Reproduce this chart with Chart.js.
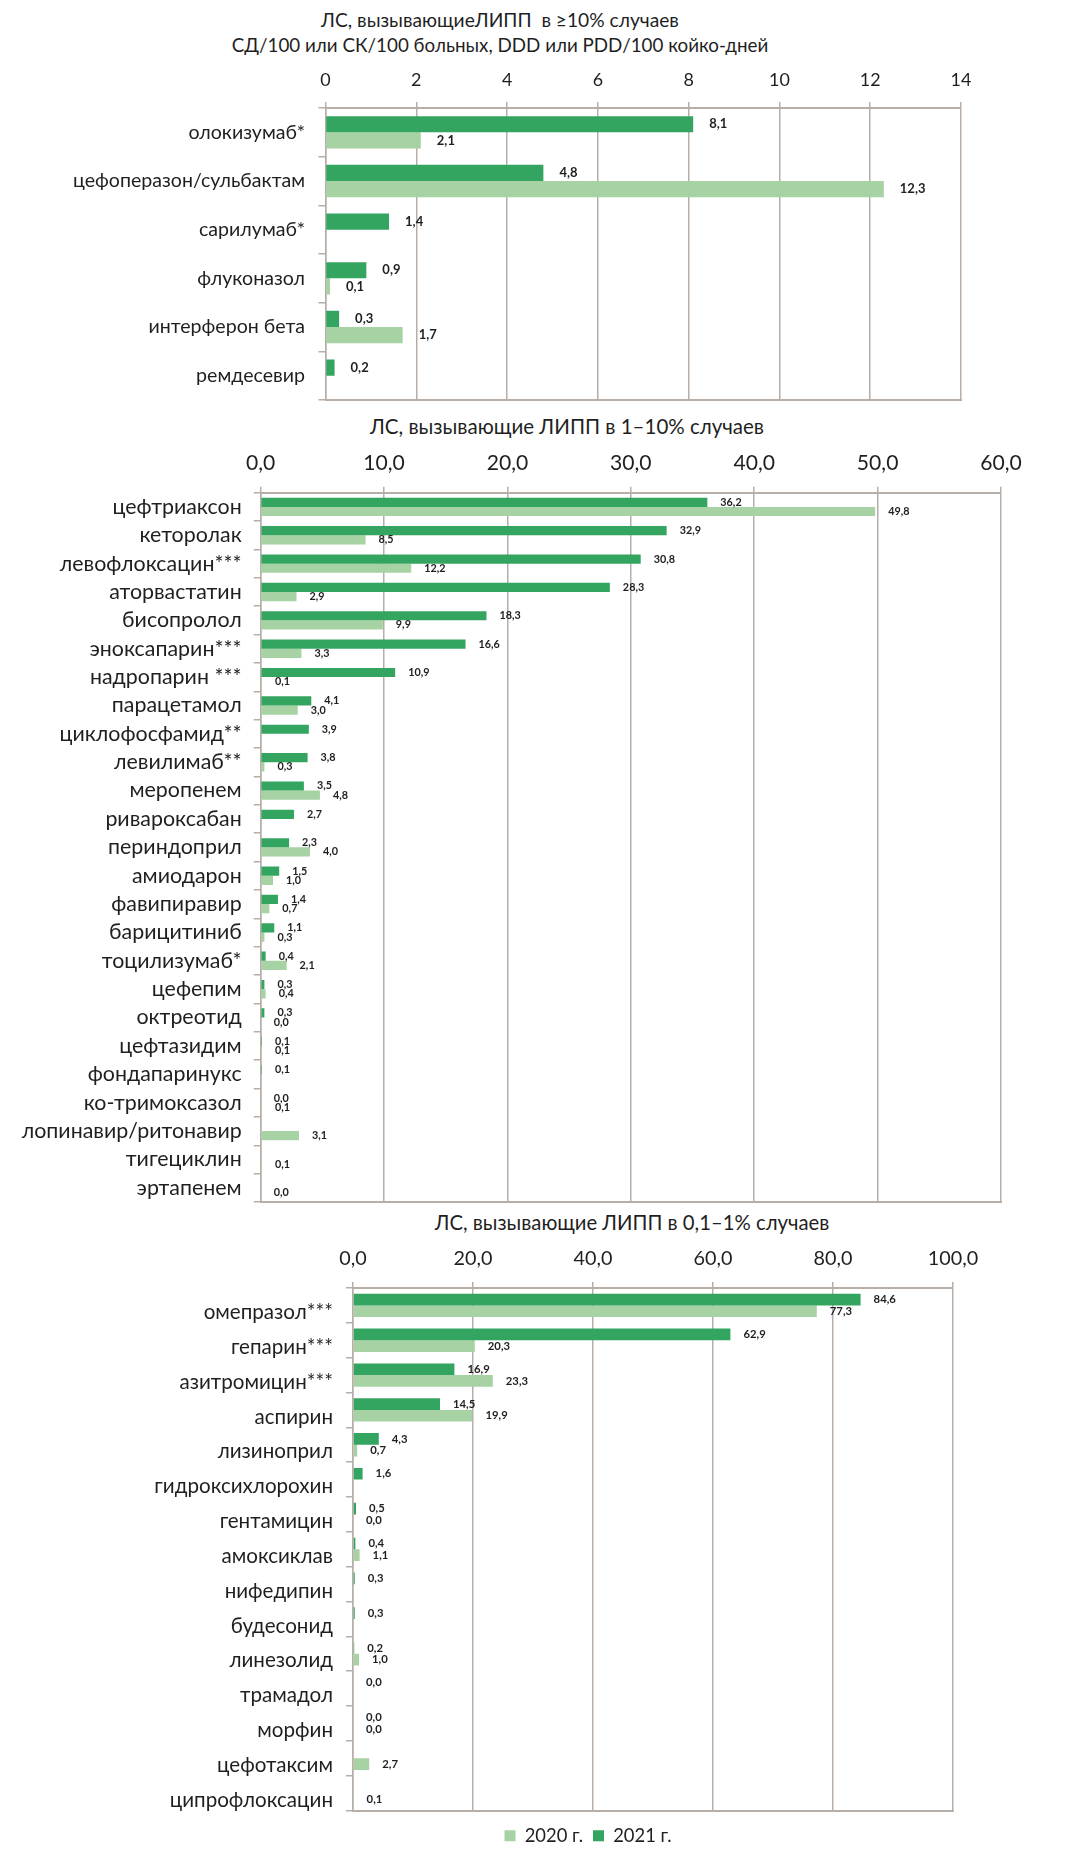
<!DOCTYPE html>
<html><head><meta charset="utf-8">
<script src="https://cdn.jsdelivr.net/npm/chart.js@4.4.1/dist/chart.umd.min.js"></script>
<style>
html,body{margin:0;padding:0;background:#fff;}
body{width:1084px;height:1855px;position:relative;overflow:hidden;font-family:Lato,"Noto Sans",sans-serif;color:#1f1f1f;}
.t{position:absolute;width:800px;text-align:center;font-size:20px;line-height:25px;white-space:pre;}
canvas{position:absolute;}
</style></head><body>
<div class="t" id="t1a" style="left:100px;top:7px;"></div>
<div class="t" id="t1b" style="left:100px;top:32px;"></div>
<div class="t" id="t2" style="left:167px;top:414px;"></div>
<div class="t" id="t3" style="left:232px;top:1210px;"></div>
<canvas id="c1" width="1004" height="404" style="left:0;top:0;"></canvas>
<canvas id="c2" width="1084" height="766" style="left:0;top:440px;"></canvas>
<canvas id="c3" width="992" height="615" style="left:92px;top:1240px;"></canvas>
<script>
// ---------- data ----------
const titles = {
  t1a: 'ЛС, вызывающиеЛИПП  в ≥10% случаев',
  t1b: 'СД/100 или СК/100 больных, DDD или PDD/100 койко-дней',
  t2: 'ЛС, вызывающие ЛИПП в 1–10% случаев',
  t3: 'ЛС, вызывающие ЛИПП в 0,1–1% случаев'
};
const seriesNames = ['2021 г.', '2020 г.'];

const cats1 = ['олокизумаб*', 'цефоперазон/сульбактам', 'сарилумаб*', 'флуконазол', 'интерферон бета', 'ремдесевир'];
const y2021_1 = [8.1, 4.8, 1.4, 0.9, 0.3, 0.2];
const y2020_1 = [2.1, 12.3, null, 0.1, 1.7, null];
const axis1 = [0, 14, 2];   // min, max, step

const cats2 = ['цефтриаксон', 'кеторолак', 'левофлоксацин***', 'аторвастатин', 'бисопролол', 'эноксапарин***',
  'надропарин ***', 'парацетамол', 'циклофосфамид**', 'левилимаб**', 'меропенем', 'ривароксабан',
  'периндоприл', 'амиодарон', 'фавипиравир', 'барицитиниб', 'тоцилизумаб*', 'цефепим', 'октреотид',
  'цефтазидим', 'фондапаринукс', 'ко-тримоксазол', 'лопинавир/ритонавир', 'тигециклин', 'эртапенем'];
const y2021_2 = [36.2, 32.9, 30.8, 28.3, 18.3, 16.6, 10.9, 4.1, 3.9, 3.8, 3.5, 2.7, 2.3, 1.5, 1.4, 1.1, 0.4, 0.3, 0.3, 0.1, 0.1, 0.0, null, null, null];
const y2020_2 = [49.8, 8.5, 12.2, 2.9, 9.9, 3.3, 0.1, 3.0, null, 0.3, 4.8, null, 4.0, 1.0, 0.7, 0.3, 2.1, 0.4, 0.0, 0.1, null, 0.1, 3.1, 0.1, 0.0];
const axis2 = [0, 60, 10];

const cats3 = ['омепразол***', 'гепарин***', 'азитромицин***', 'аспирин', 'лизиноприл', 'гидроксихлорохин',
  'гентамицин', 'амоксиклав', 'нифедипин', 'будесонид', 'линезолид', 'трамадол', 'морфин', 'цефотаксим', 'ципрофлоксацин'];
const y2021_3 = [84.6, 62.9, 16.9, 14.5, 4.3, 1.6, 0.5, 0.4, 0.3, 0.3, 0.2, 0.0, 0.0, null, null];
const y2020_3 = [77.3, 20.3, 23.3, 19.9, 0.7, null, 0.0, 1.1, null, null, 1.0, null, 0.0, 2.7, 0.1];
const axis3 = [0, 100, 20];

// ---------- style ----------
const FONT = 'Lato, "Noto Sans", sans-serif';
const DARK = '#33a560';
const LIGHT = '#a6d2a4';
const GRID = '#b7aea8';
const TXT = '#1f1f1f';
const comma = (v, d) => Number(v).toFixed(d).replace('.', ',');

// font size that makes a sample string as wide as in the reference
const mctx = document.createElement('canvas').getContext('2d');
function fit(sample, width, bold) {
  mctx.font = (bold ? 'bold ' : '') + '100px ' + FONT;
  return Math.round(1000 * width / mctx.measureText(sample).width) / 10;
}

[['t1a', 358], ['t1b', 537], ['t2', 394], ['t3', 395]].forEach(([id, w]) => {
  const el = document.getElementById(id);
  el.textContent = titles[id];
  el.style.fontSize = fit(titles[id], w) + 'px';
});

const valueLabels = {
  id: 'valueLabels',
  afterDatasetsDraw(chart, args, o) {
    const ctx = chart.ctx;
    ctx.save();
    ctx.font = 'bold ' + o.size + 'px ' + FONT;
    ctx.fillStyle = TXT;
    ctx.textBaseline = 'middle';
    ctx.textAlign = 'left';
    chart.data.datasets.forEach((ds, di) => {
      const meta = chart.getDatasetMeta(di);
      meta.data.forEach((bar, i) => {
        const v = ds.data[i];
        if (v === null || v === undefined) return;
        ctx.fillText(comma(v, 1), bar.x + o.offset, bar.y);
      });
    });
    ctx.restore();
  }
};

function build(id, cats, d21, d20, axis, s) {
  const tickPad = s.tickGap - 6 - 0.6 * s.tickSize;
  const scales = {
    x: {
      type: 'linear', position: 'top', min: axis[0], max: axis[1],
      ticks: { stepSize: axis[2], font: { family: FONT, size: s.tickSize }, color: TXT, padding: tickPad,
        callback: v => comma(v, s.dec) },
      grid: { color: GRID, lineWidth: 1.5, tickLength: 6, tickColor: GRID },
      border: { color: GRID, width: 2 },
      afterFit: sc => { sc.height = s.xH; sc.paddingLeft = 0; sc.paddingRight = 0; }
    },
    xb: {
      type: 'linear', position: 'bottom', min: axis[0], max: axis[1], display: true,
      grid: { display: false }, ticks: { display: false },
      border: { display: true, color: GRID, width: 2 },
      afterFit: sc => { sc.height = s.xbH || 0; }
    },
    y: {
      type: 'category',
      ticks: { font: { family: FONT, size: s.catSize }, color: TXT, padding: s.catPad, labelOffset: s.labelOffset || 0, autoSkip: false },
      grid: { offset: true, drawOnChartArea: false, tickLength: 7, tickColor: GRID, color: GRID, lineWidth: 1.5 },
      border: { color: GRID, width: 1.5 },
      afterFit: sc => { sc.width = s.yW; sc.paddingTop = 0; sc.paddingBottom = 0; }
    }
  };
  if (s.rightW) {
    scales.yr = { type: 'linear', position: 'right', display: true, grid: { display: false }, ticks: { display: false },
      border: { display: false }, afterFit: sc => { sc.width = s.rightW; } };
  }
  return new Chart(document.getElementById(id), {
    type: 'bar',
    data: {
      labels: cats,
      datasets: [
        { label: seriesNames[0], data: d21, backgroundColor: DARK, borderWidth: 0 },
        { label: seriesNames[1], data: d20, backgroundColor: LIGHT, borderWidth: 0 }
      ]
    },
    options: {
      indexAxis: 'y', responsive: false, animation: false,
      categoryPercentage: s.catPct, barPercentage: 1,
      layout: { padding: s.pad, autoPadding: false },
      scales,
      plugins: {
        legend: s.legend ? {
          display: true, position: 'bottom', reverse: true,
          labels: { boxWidth: 11, boxHeight: 11, padding: 10, color: TXT, font: { family: FONT, size: s.legSize } }
        } : { display: false },
        tooltip: { enabled: false },
        valueLabels: { size: s.valSize, offset: s.valOff }
      }
    },
    plugins: [valueLabels]
  });
}

build('c1', cats1, y2021_1, y2020_1, axis1, {
  tickSize: fit('14', 20.8), tickGap: 28, dec: 0, xH: 108,
  catSize: fit('цефоперазон/сульбактам', 231.7), catPad: 13.5, yW: 325.5,
  catPct: 0.665, pad: { left: 0, right: 43, top: 0, bottom: 4 },
  valSize: fit('12,3', 25.6, true), valOff: 16
});
build('c2', cats2, y2021_2, y2020_2, axis2, {
  tickSize: fit('60,0', 41.5), tickGap: 29.4, dec: 1, xH: 52.7,
  catSize: fit('лопинавир/ритонавир', 220), catPad: 12, yW: 260.7,
  catPct: 0.65, pad: { left: 0, right: 83, top: 0, bottom: 4 },
  valSize: fit('49,8', 21.3, true), valOff: 13
});
build('c3', cats3, y2021_3, y2020_3, axis3, {
  tickSize: fit('100,0', 50.5), tickGap: 29.7, dec: 1, xH: 48,
  catSize: fit('гидроксихлорохин', 178.4), catPad: 13, yW: 261, labelOffset: 7,
  catPct: 0.67, pad: 0, rightW: 131, xbH: 6, legend: true, legSize: fit('2020 г.', 58.3),
  valSize: fit('20,3', 22.3, true), valOff: 13
});
</script>
</body></html>
